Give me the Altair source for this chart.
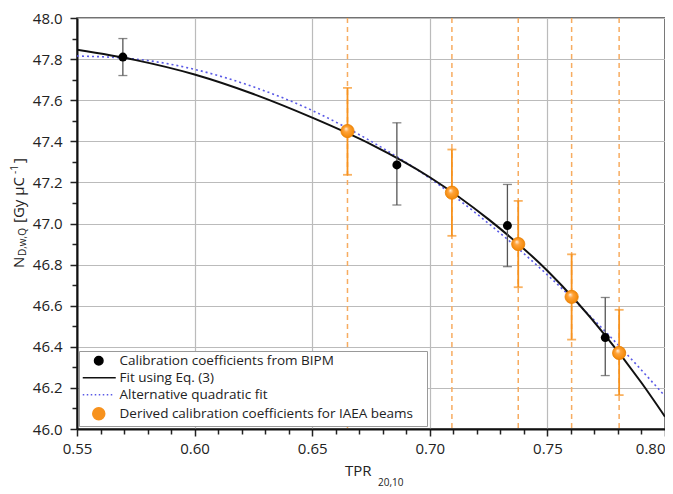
import altair as alt
import pandas as pd

# ---------------- data ----------------
x_ticks = [0.55, 0.56, 0.57, 0.58, 0.59, 0.60, 0.61, 0.62, 0.63, 0.64, 0.65, 0.66, 0.67,
           0.68, 0.69, 0.70, 0.71, 0.72, 0.73, 0.74, 0.75, 0.76, 0.77, 0.78, 0.79, 0.80]
y_ticks = [46.0, 46.1, 46.2, 46.3, 46.4, 46.5, 46.6, 46.7, 46.8, 46.9, 47.0,
           47.1, 47.2, 47.3, 47.4, 47.5, 47.6, 47.7, 47.8, 47.9, 48.0]

bipm_x = [0.5695, 0.686, 0.733, 0.7746]
bipm_y = [47.81, 47.285, 46.99, 46.445]
bipm_lo = [47.72, 47.09, 46.79, 46.26]
bipm_hi = [47.90, 47.49, 47.19, 46.64]

iaea_x = [0.665, 0.7094, 0.7376, 0.7603, 0.7805]
iaea_y = [47.45, 47.15, 46.90, 46.643, 46.37]
iaea_lo = [47.237, 46.94, 46.69, 46.435, 46.165]
iaea_hi = [47.66, 47.36, 47.11, 46.85, 46.58]

fit_x = [0.550, 0.575, 0.600, 0.625, 0.650, 0.675, 0.700, 0.725, 0.750, 0.775, 0.790, 0.800]
fit_y = [47.845, 47.795, 47.725, 47.630, 47.515, 47.385, 47.225, 47.020, 46.770, 46.450, 46.225, 46.060]

quad_x = [0.550, 0.575, 0.600, 0.625, 0.650, 0.675, 0.700, 0.725, 0.750, 0.775, 0.800]
quad_y = [47.815, 47.800, 47.750, 47.665, 47.550, 47.400, 47.220, 47.000, 46.750, 46.470, 46.160]

legend_labels = ["Calibration coefficients from BIPM", "Fit using Eq. (3)",
                 "Alternative quadratic fit", "Derived calibration coefficients for IAEA beams"]

# ---------------- styling ----------------
FONT = "Open Sans"
C_BLACK = "#111111"
C_ERR = "#555555"
C_BLUE = "#5a5ae6"
C_ORANGE = "#f7921e"
C_DASH = "#f7ac60"

bipm = pd.DataFrame({"x": bipm_x, "y": bipm_y, "lo": bipm_lo, "hi": bipm_hi})
iaea = pd.DataFrame({"x": iaea_x, "y": iaea_y, "lo": iaea_lo, "hi": iaea_hi})
fit = pd.DataFrame({"x": fit_x, "y": fit_y})
quad = pd.DataFrame({"x": quad_x, "y": quad_y})
leg = pd.DataFrame({"series": legend_labels})

xmaj = "abs(datum.value*20 - round(datum.value*20)) < 0.001"
ymaj = "abs(datum.value*5 - round(datum.value*5)) < 0.001"

xscale = alt.Scale(domain=[0.55, 0.80], nice=False, zero=False)
yscale = alt.Scale(domain=[46.0, 48.0], nice=False, zero=False)

common_axis = dict(
    title=None, labelFont=FONT, labelFontSize=15, labelColor="#222222", labelOverlap=False,
    tickColor="#222222", tickWidth=1.5, domainColor=C_BLACK, domainWidth=2,
    grid=True, gridColor="#bbbbbb", gridWidth=1.2,
)
xaxis = alt.Axis(
    values=x_ticks, format=".2f", labelExpr=f"({xmaj}) ? datum.label : ''",
    labelAlign={"condition": {"test": "datum.value > 0.795", "value": "right"}, "value": "center"},
    labelFlush=False, labelPadding=5,
    tickSize={"condition": {"test": xmaj, "value": 7}, "value": 5},
    gridOpacity={"condition": {"test": xmaj, "value": 1}, "value": 0},
    **common_axis,
)
yaxis = alt.Axis(
    values=y_ticks, format=".1f", labelExpr=f"({ymaj}) ? datum.label : ''",
    labelPadding=8,
    tickSize={"condition": {"test": ymaj, "value": 7}, "value": 5},
    gridOpacity={"condition": {"test": ymaj, "value": 1}, "value": 0},
    **common_axis,
)


def X(f="x"):
    return alt.X(f"{f}:Q", scale=xscale, axis=xaxis)


def Y(f="y"):
    return alt.Y(f"{f}:Q", scale=yscale, axis=yaxis)


dashed = alt.Chart(iaea).mark_rule(color=C_DASH, strokeDash=[5, 4], strokeWidth=1.5).encode(x=X())

quad_line = alt.Chart(quad).mark_line(
    color=C_BLUE, strokeDash=[2, 3], strokeWidth=1.6, interpolate="monotone", clip=True
).encode(x=X(), y=Y())

fit_line = alt.Chart(fit).mark_line(
    color=C_BLACK, strokeWidth=2, interpolate="monotone", clip=True
).encode(x=X(), y=Y())

b_rule = alt.Chart(bipm).mark_rule(color=C_ERR, strokeWidth=1.3).encode(x=X(), y=Y("lo"), y2="hi:Q")
b_tlo = alt.Chart(bipm).mark_tick(orient="horizontal", size=9, thickness=1.3, color=C_ERR).encode(x=X(), y=Y("lo"))
b_thi = alt.Chart(bipm).mark_tick(orient="horizontal", size=9, thickness=1.3, color=C_ERR).encode(x=X(), y=Y("hi"))
b_pts = alt.Chart(bipm).mark_circle(size=80, color="black", opacity=1).encode(x=X(), y=Y())

o_rule = alt.Chart(iaea).mark_rule(color=C_ORANGE, strokeWidth=1.8).encode(x=X(), y=Y("lo"), y2="hi:Q")
o_tlo = alt.Chart(iaea).mark_tick(orient="horizontal", size=9, thickness=1.8, color=C_ORANGE).encode(x=X(), y=Y("lo"))
o_thi = alt.Chart(iaea).mark_tick(orient="horizontal", size=9, thickness=1.8, color=C_ORANGE).encode(x=X(), y=Y("hi"))
grad = alt.RadialGradient(
    gradient="radial",
    stops=[alt.GradientStop(offset=0, color="#fff4e6"),
           alt.GradientStop(offset=0.35, color="#ffa33a"),
           alt.GradientStop(offset=1, color="#f08400")],
    x1=0.38, y1=0.32, r1=0, x2=0.5, y2=0.5, r2=0.55,
)
o_pts = alt.Chart(iaea).mark_point(
    shape="circle", filled=True, size=175, fill=grad, stroke="#ea7f00", strokeWidth=0.8, opacity=1
).encode(x=X(), y=Y())

# legend symbols (custom paths; unit = 5 px at symbol size 100)
P_PRE = "M-1.2,0M66.4,0"
shapes = [
    P_PRE + "M2.85,0A0.85,0.85 0 1,1 1.15,0A0.85,0.85 0 1,1 2.85,0Z",
    P_PRE + "M-1.2,0H5.4",
    P_PRE + "M-1.2,0h0.3M-0.4,0h0.3M0.4,0h0.3M1.2,0h0.3M2,0h0.3M2.8,0h0.3M3.6,0h0.3M4.4,0h0.3",
    P_PRE + "M3.2,0A1.2,1.2 0 1,1 0.8,0A1.2,1.2 0 1,1 3.2,0Z",
]
colors = ["black", C_BLACK, C_BLUE, C_ORANGE]
legend = alt.Legend(
    title=None, orient="none", legendX=2, legendY=333, padding=3,
    fillColor="white", strokeColor="#999999",
    labelFont=FONT, labelFontSize=13.5, labelColor="#222222", labelLimit=500,
    labelOffset=24, symbolSize=100, symbolStrokeWidth=1.5, rowPadding=2,
    symbolOpacity=1, symbolFillColor="black", symbolStrokeColor="black",
)
leg_layer = alt.Chart(leg).mark_point(filled=True, opacity=0).encode(
    x=alt.value(100), y=alt.value(100),
    shape=alt.Shape("series:N", scale=alt.Scale(domain=legend_labels, range=shapes), legend=legend),
    fill=alt.Fill("series:N", scale=alt.Scale(domain=legend_labels, range=colors), legend=legend),
    stroke=alt.Stroke("series:N", scale=alt.Scale(domain=legend_labels, range=colors), legend=legend),
)

one = pd.DataFrame({"k": [0]})


def txt(s, x, y, size, angle=0):
    return alt.Chart(one).mark_text(
        text=s, font=FONT, fontSize=size, color="#222222", align="left", baseline="middle", angle=angle
    ).encode(x=alt.value(x), y=alt.value(y))


titles = [
    txt("N", -58, 250, 15, 270),
    txt("D,w,Q", -54, 238, 10, 270),
    txt("[Gy µC", -58, 205, 15, 270),
    txt("-1", -62, 156, 10, 270),
    txt("]", -58, 145, 15, 270),
    txt("TPR", 268, 453, 15),
    txt("20,10", 301, 465, 10),
]

chart = alt.layer(
    dashed, quad_line, fit_line, b_rule, b_tlo, b_thi, b_pts, o_rule, o_tlo, o_thi, o_pts, leg_layer, *titles
).properties(
    width=588, height=411,
    autosize=alt.AutoSizeParams(type="none"),
    padding={"left": 69, "top": 10, "right": 0, "bottom": 60},
).configure_view(stroke="#444444", strokeWidth=1.5)

chart.save("out.html", embed_options={"renderer": "svg", "actions": False})
